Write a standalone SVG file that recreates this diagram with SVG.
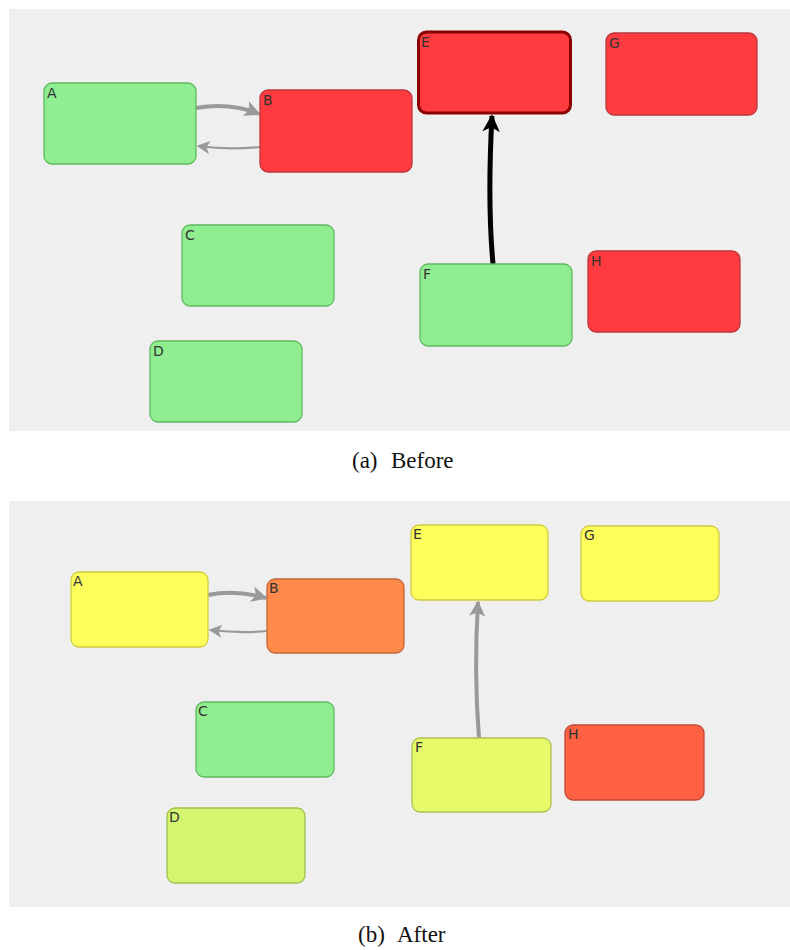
<svg xmlns="http://www.w3.org/2000/svg" width="790" height="950" viewBox="0 0 790 950">
  <style>
    .panel { fill: #efefef; }
    .node rect { stroke-width: 1.3; }
    .lbl { font-family: "DejaVu Sans", "Liberation Sans", sans-serif; font-size: 14px; fill: #333; }
    .cap { font-family: "Liberation Serif", "DejaVu Serif", serif; font-size: 23px; fill: #111; }
    .green rect { fill: #90ee90; stroke: #5fb85f; }
    .red rect { fill: #ff3b3f; stroke: #b8383b; }
    .yellow rect { fill: #ffff5c; stroke: #d0cc40; }
    .orange rect { fill: #ff8a4a; stroke: #c06838; }
    .tomato rect { fill: #ff6142; stroke: #c04a36; }
    .lime rect { fill: #e6fa6a; stroke: #b0c050; }
    .yg rect { fill: #d4f56e; stroke: #a0c050; }
    .edge { fill: none; }
  </style>
  <defs>
    <marker id="arrGray" viewBox="0 0 10 10" refX="9" refY="5" markerWidth="4" markerHeight="4" orient="auto" markerUnits="strokeWidth">
      <path d="M0,0 L10,5 L0,10 L2.5,5 z" fill="#999"/>
    </marker>
    <marker id="arrGrayThin" viewBox="0 0 10 10" refX="9" refY="5" markerWidth="6" markerHeight="6" orient="auto" markerUnits="strokeWidth">
      <path d="M0,0 L10,5 L0,10 L2.5,5 z" fill="#999"/>
    </marker>
    <marker id="arrBlack" viewBox="0 0 10 10" refX="9" refY="5" markerWidth="3.5" markerHeight="3.5" orient="auto" markerUnits="strokeWidth">
      <path d="M0,0 L10,5 L0,10 L2.5,5 z" fill="#000"/>
    </marker>
  </defs>

  <!-- panel (a) -->
  <rect class="panel" x="9" y="9" width="781" height="422"/>
  <g id="edges-a">
    <path class="edge" d="M196,108 C220,104 240,106 259,114" stroke="#999" stroke-width="4" marker-end="url(#arrGray)"/>
    <path class="edge" d="M260,147 C240,149 220,149 198,146" stroke="#999" stroke-width="2.2" marker-end="url(#arrGrayThin)"/>
    <path class="edge" d="M493,264 C489,220 489,170 492,116" stroke="#000" stroke-width="5" marker-end="url(#arrBlack)"/>
  </g>
  <g id="a-A" class="node green"><rect x="44" y="83" width="152" height="81" rx="8"/><text class="lbl" x="47" y="98">A</text></g>
  <g id="a-B" class="node red"><rect x="260" y="90" width="152" height="82" rx="8"/><text class="lbl" x="263" y="105">B</text></g>
  <g id="a-C" class="node green"><rect x="182" y="225" width="152" height="81" rx="8"/><text class="lbl" x="185" y="240">C</text></g>
  <g id="a-D" class="node green"><rect x="150" y="341" width="152" height="81" rx="8"/><text class="lbl" x="153" y="356">D</text></g>
  <g id="a-E" class="node red"><rect x="418.5" y="32" width="152" height="81" rx="8" style="stroke:#8a0000;stroke-width:3"/><text class="lbl" x="421" y="47">E</text></g>
  <g id="a-F" class="node green"><rect x="420" y="264" width="152" height="82" rx="8"/><text class="lbl" x="423" y="279">F</text></g>
  <g id="a-G" class="node red"><rect x="606" y="33" width="151" height="82" rx="8"/><text class="lbl" x="609" y="48">G</text></g>
  <g id="a-H" class="node red"><rect x="588" y="251" width="152" height="81" rx="8"/><text class="lbl" x="591" y="266">H</text></g>
  <text class="cap" y="468"><tspan x="352">(a)</tspan><tspan x="391">Before</tspan></text>

  <!-- panel (b) -->
  <rect class="panel" x="9" y="501" width="781" height="406"/>
  <g id="edges-b">
    <path class="edge" d="M208,595 C228,591 248,593 266,598" stroke="#999" stroke-width="4" marker-end="url(#arrGray)"/>
    <path class="edge" d="M267,631 C248,633 228,632 210,630" stroke="#999" stroke-width="2.2" marker-end="url(#arrGrayThin)"/>
    <path class="edge" d="M479,738 C476,700 475,650 478,602" stroke="#999" stroke-width="4" marker-end="url(#arrGray)"/>
  </g>
  <g id="b-A" class="node yellow"><rect x="71" y="572" width="137" height="75" rx="8"/><text class="lbl" x="73" y="586">A</text></g>
  <g id="b-B" class="node orange"><rect x="267" y="579" width="137" height="74" rx="8"/><text class="lbl" x="269" y="593">B</text></g>
  <g id="b-C" class="node green"><rect x="196" y="702" width="138" height="75" rx="8"/><text class="lbl" x="198" y="716">C</text></g>
  <g id="b-D" class="node yg"><rect x="167" y="808" width="138" height="75" rx="8"/><text class="lbl" x="169" y="822">D</text></g>
  <g id="b-E" class="node yellow"><rect x="411" y="525" width="137" height="75" rx="8"/><text class="lbl" x="413" y="539">E</text></g>
  <g id="b-F" class="node lime"><rect x="412" y="738" width="139" height="74" rx="8"/><text class="lbl" x="415" y="752">F</text></g>
  <g id="b-G" class="node yellow"><rect x="581" y="526" width="138" height="75" rx="8"/><text class="lbl" x="584" y="540">G</text></g>
  <g id="b-H" class="node tomato"><rect x="565" y="725" width="139" height="75" rx="8"/><text class="lbl" x="568" y="739">H</text></g>
  <text class="cap" y="942"><tspan x="358">(b)</tspan><tspan x="397">After</tspan></text>
</svg>
